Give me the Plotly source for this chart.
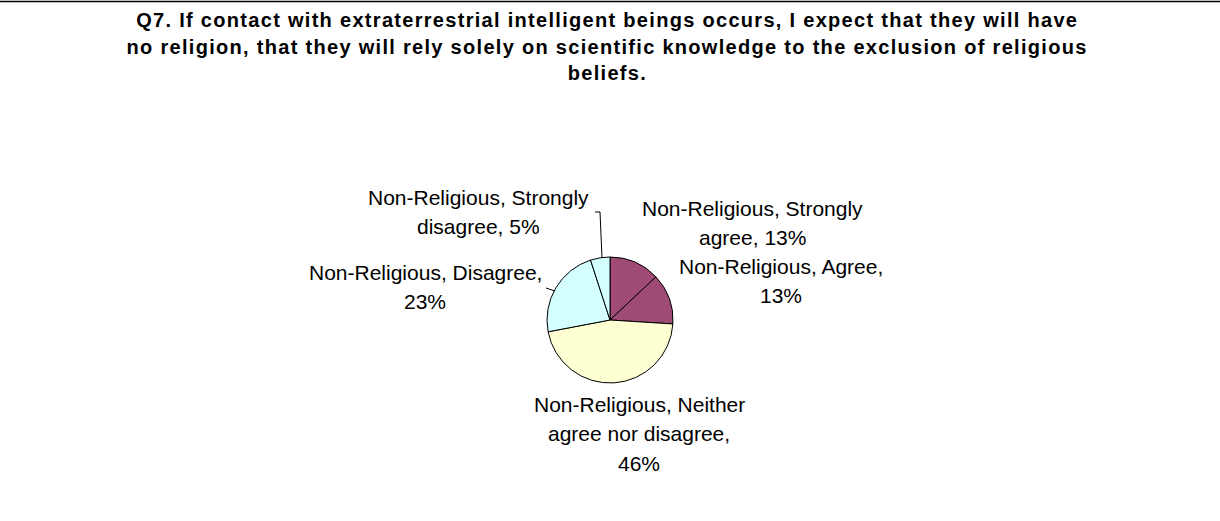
import textwrap
import plotly.graph_objects as go

W, H = 1220, 521

# ---- data ----
categories = [
    "Non-Religious, Strongly agree",
    "Non-Religious, Agree",
    "Non-Religious, Neither agree nor disagree",
    "Non-Religious, Disagree",
    "Non-Religious, Strongly disagree",
]
values = [13, 13, 46, 23, 5]
colors = ["#A04A76", "#A04A76", "#FFFFD4", "#D4FFFF", "#D4FFFF"]
title_lines = [
    "Q7. If contact with extraterrestrial intelligent beings occurs, I expect that they will have",
    "no religion, that they will rely solely on scientific knowledge to the exclusion of religious",
    "beliefs.",
]

# ---- layout helpers (pixel -> paper) ----
def px(x):
    return x / W

def py(y):
    return 1 - y / H

cx, cy, r = 610, 320, 63
wrap_widths = [23, 21, 22, 24, 23]
label_centers = [(752, 208), (781, 266), (639, 404), (425, 272), (478, 197)]
line_gap = 29.5
label_size = 21

fig = go.Figure(go.Pie(
    labels=categories,
    values=values,
    sort=False,
    direction="clockwise",
    rotation=0,
    textinfo="none",
    hoverinfo="label+percent",
    marker=dict(colors=colors, line=dict(color="black", width=1)),
    domain=dict(x=[px(cx - r), px(cx + r)], y=[py(cy + r), py(cy - r)]),
    showlegend=False,
))

annotations = []
for cat, val, wdt, (lx, ly) in zip(categories, values, wrap_widths, label_centers):
    lines = textwrap.wrap(f"{cat}, {val}%", wdt)
    for i, ln in enumerate(lines):
        annotations.append(dict(
            x=px(lx), y=py(ly + i * line_gap), xref="paper", yref="paper",
            text=ln, showarrow=False, xanchor="center", yanchor="middle",
            font=dict(family="Liberation Sans, Arial, sans-serif", size=label_size, color="black"),
        ))

for i, ln in enumerate(title_lines):
    annotations.append(dict(
        x=px(607), y=py(20 + i * 26.5), xref="paper", yref="paper",
        text=f"<b>{ln}</b>", showarrow=False, xanchor="center", yanchor="middle",
        font=dict(family="Liberation Sans, Arial, sans-serif", size=20, color="black"),
    ))

shapes = [
    # top border
    dict(type="line", xref="paper", yref="paper", x0=0, x1=1, y0=py(1.5), y1=py(1.5),
         line=dict(color="black", width=1.5)),
    # leader for strongly disagree
    dict(type="path", xref="paper", yref="paper",
         path=f"M {px(595)} {py(212)} L {px(600)} {py(212)} L {px(602)} {py(258)}",
         line=dict(color="black", width=1)),
    # leader for disagree
    dict(type="line", xref="paper", yref="paper", x0=px(546), y0=py(288), x1=px(555), y1=py(291),
         line=dict(color="black", width=1)),
]

fig.update_layout(
    width=W, height=H,
    margin=dict(l=0, r=0, t=0, b=0),
    paper_bgcolor="white", plot_bgcolor="white",
    annotations=annotations,
    shapes=shapes,
)

post = """
document.body.style.margin = '0';
var gd = document.getElementById('{plot_id}');
gd.querySelectorAll('text.annotation-text').forEach(function (t) {
  if (t.querySelector('tspan[style*="bold"]')) { t.setAttribute('letter-spacing', '1.3px'); }
});
"""

fig.write_html("out.html", post_script=post, config={"displayModeBar": False})
